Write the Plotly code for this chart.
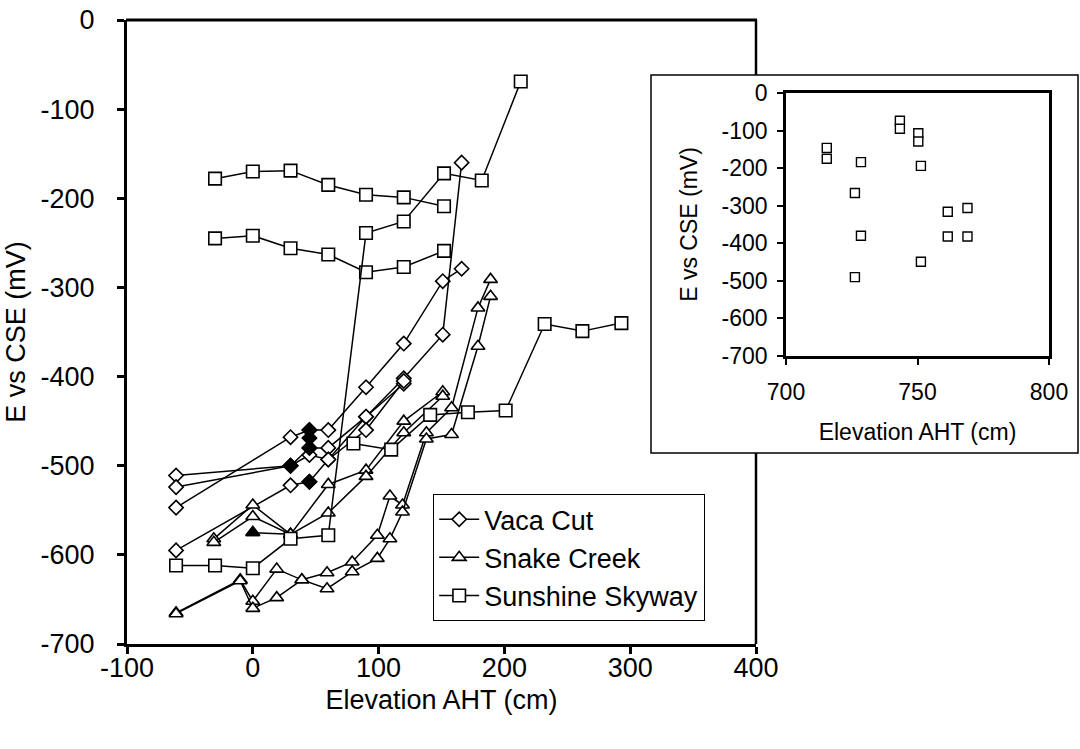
import plotly.graph_objects as go

# ---------------- data ----------------
# Vaca Cut (open diamonds)
vaca_x = [
    [-61, 30, 45, 60, 90, 120, 151, 166],
    [-61, 30, 45, 60, 90, 120, 151, 166],
    [-61, 30, 45, 60, 90, 120],
    [-61, 30, 45, 60, 90, 120],
]
vaca_y = [
    [-547, -468, -460, -460, -412, -363, -293, -279],
    [-511, -500, -480, -480, -445, -402, -353, -160],
    [-524, -500, -488, -493, -445, -408],
    [-595, -522, -518, -493, -460, -405],
]
# filled diamonds
vaca_fill_x = [30, 45, 45, 45, 45]
vaca_fill_y = [-500, -460, -469, -480, -518]

# Snake Creek (open triangles)
snake_x = [
    [-31, 0, 30, 60, 90, 120, 151],
    [-31, 0, 30, 60, 90, 120, 151],
    [0, 30],
    [-61, -10, 0, 19, 39, 59, 79, 99, 109, 119, 138, 158, 179, 189],
    [-61, -10, 0, 19, 39, 59, 79, 99, 109, 119, 138, 158, 179, 189],
]
snake_y = [
    [-582, -544, -577, -521, -505, -450, -417],
    [-586, -557, -577, -553, -512, -463, -422],
    [-575, -577],
    [-665, -628, -652, -616, -628, -620, -608, -578, -534, -544, -463, -435, -323, -291],
    [-666, -629, -660, -648, -628, -638, -619, -604, -582, -552, -470, -465, -366, -310],
]
snake_fill_x = [0]
snake_fill_y = [-575]

# Sunshine Skyway (open squares)
sky_x = [
    [-30, 0, 30, 60, 90, 120, 152],
    [-30, 0, 30, 60, 90, 120, 152],
    [-61, -30, 0, 30, 60, 90, 120, 152, 182, 213],
    [80, 110, 141, 171, 201, 232, 262, 293],
]
sky_y = [
    [-178, -170, -169, -185, -196, -199, -209],
    [-245, -242, -256, -263, -283, -277, -259],
    [-612, -612, -615, -582, -578, -239, -226, -172, -180, -69],
    [-475, -482, -443, -440, -438, -341, -349, -340],
]

# inset (Sunshine Skyway, high elevations)
inset_x = [715.5, 715.5, 728.5, 726.2, 728.5, 726.2, 743.3, 743.3, 750.3, 750.3,
           751.3, 751.3, 761.5, 761.5, 769, 769]
inset_y = [-146, -175, -184, -266, -380, -490, -74, -95, -107, -129,
           -194, -449, -316, -382, -306, -382]

x_ticks = [-100, 0, 100, 200, 300, 400]
x_ticktext = ["-100", "0", "100", "200", "300", "400"]
y_ticks = [-700, -600, -500, -400, -300, -200, -100, 0]
y_ticktext = ["-700", "-600", "-500", "-400", "-300", "-200", "-100", "0"]
inset_x_ticks = [700, 750, 800]
inset_x_ticktext = ["700", "750", "800"]

# ---------------- figure ----------------
FONT = "Liberation Sans, Arial, sans-serif"
fig = go.Figure()

def add_group(xs, ys, symbol, size, name):
    for i, (xx, yy) in enumerate(zip(xs, ys)):
        fig.add_trace(go.Scatter(
            x=xx, y=yy, mode="lines+markers", name=name,
            legendgroup=name, showlegend=(i == 0),
            line=dict(color="black", width=1.5),
            marker=dict(symbol=symbol, size=size, color="white",
                        line=dict(color="black", width=1.6)),
            xaxis="x", yaxis="y"))

add_group(vaca_x, vaca_y, "diamond", 11, "Vaca Cut")
add_group(snake_x, snake_y, "triangle-up", 12, "Snake Creek")
add_group(sky_x, sky_y, "square", 12.5, "Sunshine Skyway")

fig.add_trace(go.Scatter(x=vaca_fill_x, y=vaca_fill_y, mode="markers", showlegend=False,
                         marker=dict(symbol="diamond", size=11, color="black",
                                     line=dict(color="black", width=1.6))))
fig.add_trace(go.Scatter(x=snake_fill_x, y=snake_fill_y, mode="markers", showlegend=False,
                         marker=dict(symbol="triangle-up", size=12, color="black",
                                     line=dict(color="black", width=1.6))))

fig.add_trace(go.Scatter(x=inset_x, y=inset_y, mode="markers", showlegend=False,
                         marker=dict(symbol="square", size=9, color="white",
                                     line=dict(color="black", width=1.4)),
                         xaxis="x2", yaxis="y2"))

W, H = 1080, 749
def px(xp):
    return xp / W
def py(yp):
    return 1 - yp / H

tickfont = dict(family=FONT, size=27, color="black")
inset_font = dict(family=FONT, size=23, color="black")

common = dict(ticks="outside", tickcolor="black", linecolor="black", showline=True,
              showgrid=False, zeroline=False, automargin=False)

fig.update_layout(
    template="none",
    width=W, height=H,
    margin=dict(l=0, r=0, t=0, b=0, pad=0),
    paper_bgcolor="white", plot_bgcolor="rgba(0,0,0,0)",
    font=dict(family=FONT, color="black"),
    xaxis=dict(domain=[px(127), px(756)], range=[-100, 400],
               tickvals=x_ticks, ticktext=x_ticktext, ticklen=7, tickwidth=2.5,
               linewidth=3, tickfont=tickfont, ticklabelstandoff=-9,
               title=dict(text="Elevation AHT (cm)", font=tickfont, standoff=8),
               anchor="y", **common),
    yaxis=dict(domain=[py(644), py(20)], range=[-700, 0],
               tickvals=y_ticks, ticktext=y_ticktext, ticklen=7, tickwidth=2.5,
               linewidth=3, tickfont=tickfont, ticklabelstandoff=17,
               title=dict(text="E vs CSE (mV)", font=tickfont, standoff=8),
               anchor="x", **common),
    xaxis2=dict(domain=[px(786), px(1049)], range=[700, 800],
                tickvals=inset_x_ticks, ticktext=inset_x_ticktext, ticklen=6, tickwidth=2,
                linewidth=2.5, mirror=True, tickfont=inset_font, ticklabelstandoff=8,
                title=dict(text="Elevation AHT (cm)", font=inset_font, standoff=20),
                anchor="y2", **common),
    yaxis2=dict(domain=[py(356), py(93)], range=[-700, 0],
                tickvals=y_ticks, ticktext=y_ticktext, ticklen=6, tickwidth=2,
                linewidth=2.5, mirror=True, tickfont=inset_font, ticklabelstandoff=5,
                title=dict(text="E vs CSE (mV)", font=inset_font, standoff=18),
                anchor="x2", **common),
    legend=dict(x=px(433), y=py(494), xanchor="left", yanchor="top",
                bgcolor="white", bordercolor="black", borderwidth=1.2,
                font=dict(family=FONT, size=27, color="black"),
                tracegroupgap=0, itemwidth=40),
    showlegend=True,
    shapes=[
        # top border of main plot
        dict(type="line", xref="paper", yref="paper", x0=px(126), x1=px(757),
             y0=py(20), y1=py(20), line=dict(color="black", width=3), layer="below"),
        # right border of main plot, split around the inset box
        dict(type="line", xref="paper", yref="paper", x0=px(756), x1=px(756),
             y0=py(20), y1=py(75), line=dict(color="black", width=2.5), layer="below"),
        dict(type="line", xref="paper", yref="paper", x0=px(756), x1=px(756),
             y0=py(453), y1=py(644), line=dict(color="black", width=2.5), layer="below"),
        # inset frame
        dict(type="rect", xref="paper", yref="paper", x0=px(651), x1=px(1078),
             y0=py(453), y1=py(75), line=dict(color="black", width=1.5),
             fillcolor="white", layer="below"),
    ],
)

fig.write_html("out.html", config={"displayModeBar": False},
               post_script="document.body.style.margin='0px';")
